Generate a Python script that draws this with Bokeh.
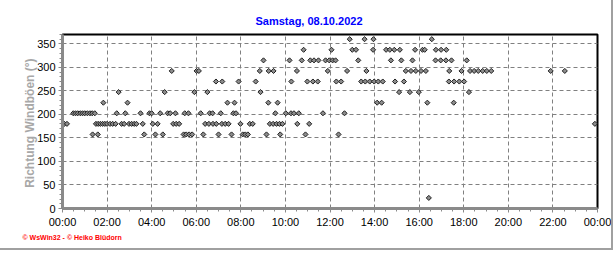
import math
from bokeh.plotting import figure
from bokeh.models import Range1d, FixedTicker, Title
from bokeh.embed import file_html
from bokeh.resources import INLINE

title_text = "Samstag, 08.10.2022"
y_label = "Richtung Windböen  (°)"
footer_text = "© WsWin32 - © Heiko Blüdorn"

x_tick_minutes = [0, 120, 240, 360, 480, 600, 720, 840, 960, 1080, 1200, 1320, 1440]
x_tick_labels = ["00:00", "02:00", "04:00", "06:00", "08:00", "10:00", "12:00",
                 "14:00", "16:00", "18:00", "20:00", "22:00", "00:00"]
x_minor_minutes = [m for m in range(0, 1441, 30)]
y_ticks = [0, 50, 100, 150, 200, 250, 300, 350]
y_minor = [v for v in range(0, 371, 10)]

times = [
    "00:05", "00:12", "00:29", "00:35", "00:41", "00:48", "00:54", "01:00", "01:07", "01:14",
    "01:20", "01:21", "01:27", "01:30", "01:35", "01:36", "01:42", "01:48", "01:50", "01:54",
    "02:00", "02:08", "02:15", "02:23", "02:26", "02:31", "02:39", "02:46", "02:49", "02:55",
    "02:59", "03:06", "03:13", "03:19", "03:30", "03:36", "03:40", "03:54", "04:00", "04:03",
    "04:10", "04:16", "04:23", "04:30", "04:35", "04:43", "04:50", "04:54", "04:58", "05:04",
    "05:06", "05:14", "05:26", "05:29", "05:33", "05:39", "05:41", "05:49", "05:55", "06:01",
    "06:07", "06:12", "06:19", "06:24", "06:30", "06:34", "06:36", "06:44", "06:45", "06:53",
    "06:54", "07:00", "07:06", "07:09", "07:10", "07:18", "07:24", "07:27", "07:35", "07:40",
    "07:43", "07:47", "07:54", "07:59", "08:05", "08:12", "08:19", "08:24", "08:32", "08:40",
    "08:51", "08:53", "09:01", "09:09", "09:14", "09:15", "09:18", "09:27", "09:28", "09:33",
    "09:36", "09:39", "09:44", "09:46", "09:52", "10:01", "10:11", "10:15", "10:16", "10:23",
    "10:31", "10:32", "10:36", "10:44", "10:49", "10:54", "10:59", "11:04", "11:07", "11:14",
    "11:17", "11:27", "11:29", "11:41", "11:48", "11:54", "11:58", "12:04", "12:07", "12:15",
    "12:17", "12:23", "12:30", "12:39", "12:46", "12:53", "13:00", "13:10", "13:16", "13:24",
    "13:33", "13:35", "13:38", "13:47", "13:56", "13:57", "13:59", "14:07", "14:10", "14:19",
    "14:22", "14:31", "14:41", "14:44", "14:53", "14:55", "15:06", "15:08", "15:12", "15:19",
    "15:24", "15:35", "15:38", "15:42", "15:49", "15:51", "15:59", "16:05", "16:09", "16:15",
    "16:18", "16:22", "16:26", "16:34", "16:44", "16:45", "16:58", "16:59", "17:12", "17:13",
    "17:20", "17:21", "17:27", "17:33", "17:34", "17:48", "17:54", "18:01", "18:08", "18:14",
    "18:17", "18:28", "18:39", "18:51", "19:02", "19:14", "21:54", "22:32", "23:53",
]
directions = [
    180, 180, 202.5, 202.5, 202.5, 202.5, 202.5, 202.5, 202.5, 202.5,
    202.5, 157.5, 202.5, 180, 157.5, 180, 180, 180, 225, 180,
    180, 180, 180, 180, 202.5, 247.5, 180, 180, 202.5, 225,
    180, 180, 180, 180, 202.5, 180, 157.5, 202.5, 202.5, 180,
    157.5, 180, 202.5, 157.5, 247.5, 202.5, 202.5, 292.5, 180, 202.5,
    180, 180, 157.5, 202.5, 157.5, 202.5, 157.5, 157.5, 247.5, 292.5,
    292.5, 202.5, 157.5, 180, 247.5, 180, 202.5, 202.5, 180, 270,
    180, 157.5, 202.5, 180, 270, 180, 225, 180, 157.5, 202.5,
    225, 202.5, 270, 180, 157.5, 157.5, 157.5, 180, 180, 270,
    292.5, 247.5, 315, 157.5, 225, 292.5, 180, 180, 292.5, 202.5,
    180, 225, 180, 157.5, 180, 202.5, 315, 202.5, 270, 202.5,
    292.5, 180, 202.5, 315, 337.5, 157.5, 270, 180, 315, 270,
    315, 270, 315, 202.5, 315, 292.5, 315, 337.5, 315, 315,
    270, 157.5, 270, 202.5, 292.5, 360, 337.5, 337.5, 315, 270,
    360, 270, 292.5, 270, 337.5, 360, 270, 225, 270, 225,
    270, 337.5, 337.5, 315, 337.5, 270, 247.5, 337.5, 315, 270,
    292.5, 247.5, 292.5, 315, 337.5, 292.5, 247.5, 292.5, 337.5, 337.5,
    292.5, 225, 22.5, 360, 315, 337.5, 315, 337.5, 315, 337.5,
    270, 292.5, 315, 225, 270, 270, 292.5, 270, 315, 247.5,
    292.5, 292.5, 292.5, 292.5, 292.5, 292.5, 292.5, 292.5, 180,
]


def to_minutes(t):
    h, m = t.split(":")
    return int(h) * 60 + int(m)


minutes = [to_minutes(t) for t in times]

FONT = "Liberation Sans"

p = figure(width=613, height=250, output_backend="svg", toolbar_location=None,
           x_range=Range1d(0, 1440), y_range=Range1d(0, 370),
           min_border_left=62, min_border_right=16, min_border_top=34, min_border_bottom=42)
p.background_fill_color = "white"
p.border_fill_color = "white"
p.outline_line_color = "black"
p.outline_line_width = 2
p.styles = {"border-right": "2px solid #a0a0a0", "border-bottom": "2px solid #a0a0a0"}

# title (above) and footer (below)
p.add_layout(Title(text=title_text, align="left", offset=193, standoff=16,
                   text_font=FONT, text_font_size="11px", text_font_style="bold",
                   text_color="#0000ff"), "above")
p.add_layout(Title(text=footer_text, align="left", offset=-40, standoff=2,
                   text_font=FONT, text_font_size="7px", text_font_style="bold",
                   text_color="#ff0000"), "below")

# axes
p.xaxis.ticker = FixedTicker(ticks=x_tick_minutes, minor_ticks=x_minor_minutes)
p.xaxis.major_label_overrides = {m: lab for m, lab in zip(x_tick_minutes, x_tick_labels)}
p.yaxis.ticker = FixedTicker(ticks=y_ticks, minor_ticks=y_minor)
p.yaxis.axis_label = y_label

for ax in (p.xaxis[0], p.yaxis[0]):
    ax.axis_line_color = "#8a8a8a"
    ax.axis_line_width = 3
    ax.major_tick_line_color = "#8a8a8a"
    ax.minor_tick_line_color = "#8a8a8a"
    ax.major_tick_out = 4
    ax.major_tick_in = 0
    ax.minor_tick_out = 3
    ax.minor_tick_in = 0
    ax.major_label_text_font = FONT
    ax.major_label_text_font_size = "11px"
    ax.major_label_text_color = "black"
    ax.major_label_standoff = 3

p.yaxis.axis_label_text_font = FONT
p.yaxis.axis_label_text_font_size = "12px"
p.yaxis.axis_label_text_font_style = "bold"
p.yaxis.axis_label_text_color = "#a8a8a8"
p.yaxis.axis_label_standoff = -3

p.xgrid.ticker = FixedTicker(ticks=x_tick_minutes)
p.ygrid.ticker = FixedTicker(ticks=y_ticks)
for g in (p.xgrid[0], p.ygrid[0]):
    g.grid_line_color = "#808080"
    g.grid_line_dash = "4 3"
    g.grid_line_width = 1

p.scatter(minutes, directions, marker="square", size=3.6, angle=math.pi / 4,
          fill_color="#8c8c8c", line_color="#202020", line_width=1)

open("out.html", "w").write(file_html(p, INLINE))
